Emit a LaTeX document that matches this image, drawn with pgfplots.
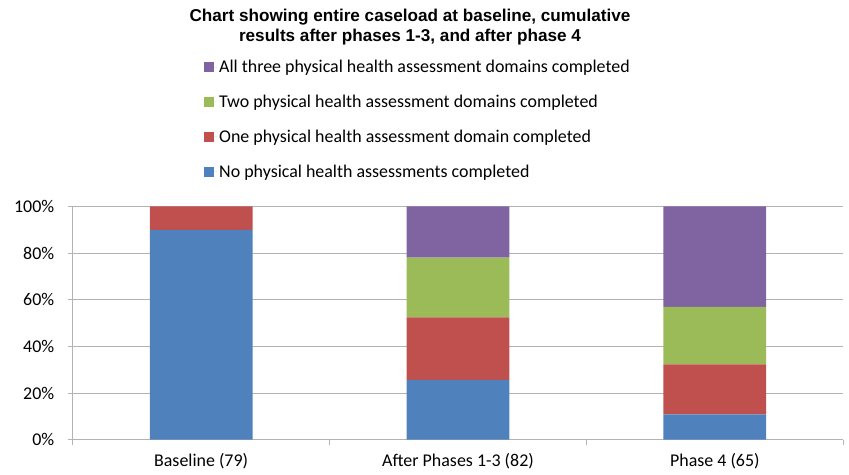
\documentclass[border=0pt]{standalone}
\usepackage{fontspec}
\setmainfont{Carlito}
\newfontfamily\titlefont{Liberation Sans}
\usepackage{pgfplots}
\pgfplotsset{compat=1.18}
\definecolor{cBlue}{HTML}{4F81BD}
\definecolor{cRed}{HTML}{C0504D}
\definecolor{cGreen}{HTML}{9BBB59}
\definecolor{cPurple}{HTML}{8064A2}
\definecolor{cGrid}{HTML}{B3B3B3}
\begin{document}
\begin{tikzpicture}
\useasboundingbox (0,0) rectangle (849bp,475bp);
\node[align=center, font=\titlefont\bfseries\fontsize{17.2}{20}\selectfont] at (410bp,448bp)
  {Chart showing entire caseload at baseline, cumulative\\results after phases 1-3, and after phase 4};
\begin{axis}[
  at={(72.7bp,35.3bp)}, anchor=south west,
  scale only axis, width=770.6bp, height=233.4bp,
  ybar stacked, bar width=0.4,
  xmin=-0.5, xmax=2.5, ymin=0, ymax=100,
  axis x line*=bottom, axis y line*=left,
  axis line style={cGrid, line width=0.8pt},
  ymajorgrids, grid style={cGrid, line width=0.8pt},
  ytick={0,20,40,60,80,100},
  yticklabel={\pgfmathprintnumber{\tick}\%},
  xtick={-0.5,0.5,1.5,2.5}, xticklabels={},
  extra x ticks={0,1,2},
  extra x tick labels={Baseline (79),After Phases 1-3 (82),Phase 4 (65)},
  extra x tick style={major tick length=0pt, grid=none},
  tick align=outside, major tick length=5bp,
  tick style={cGrid, line width=0.8pt},
  /pgf/number format/assume math mode=true,
  ticklabel style={font=\fontsize{18}{21}\selectfont, text=black},
  xticklabel style={yshift=-10bp},
  yticklabel style={xshift=-10bp},
  reverse legend,
  legend style={draw=none, fill=none, at={(axis description cs:0.1704,1.636)}, anchor=north west,
    font=\fontsize{18}{21}\selectfont, row sep=17bp, inner sep=0pt,
    nodes={inner sep=2bp, anchor=west}},
  legend cell align=left,
  area legend,
  legend image code/.code={\fill[#1] (0bp,-5bp) rectangle (10bp,5bp); \path (0bp,0bp) -- (13bp,0bp);},
]
\addplot[fill=cBlue, draw=none] coordinates {(0,89.9) (1,25.6) (2,10.8)};
\addplot[fill=cRed, draw=none] coordinates {(0,10.1) (1,26.8) (2,21.5)};
\addplot[fill=cGreen, draw=none] coordinates {(0,0) (1,25.6) (2,24.6)};
\addplot[fill=cPurple, draw=none] coordinates {(0,0) (1,22.0) (2,43.1)};
\legend{No physical health assessments completed,One physical health assessment domain completed,Two physical health assessment domains completed,All three physical health assessment domains completed}
\end{axis}
\end{tikzpicture}
\end{document}
